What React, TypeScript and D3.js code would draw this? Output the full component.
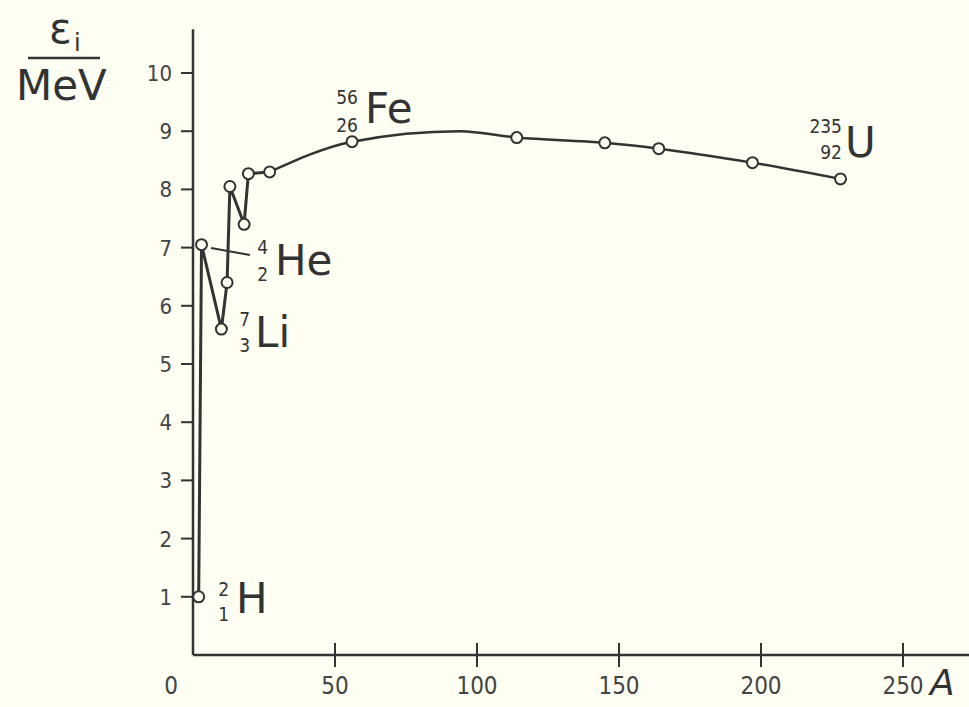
import * as d3 from 'd3';

// mass number A and binding energy per nucleon (MeV)
const pointA = [2, 3, 10, 12, 13, 18, 19.5, 27, 56, 114, 145, 164, 197, 228];
const pointE = [1.0, 7.05, 5.6, 6.4, 8.05, 7.4, 8.27, 8.3, 8.82, 8.89, 8.8, 8.7, 8.46, 8.18];
// the hand drawn curve also passes a crest with no marker on it
const crestA = [94];
const crestE = [9.0];

const xTicks = [0, 50, 100, 150, 200, 250];
const yTicks = [1, 2, 3, 4, 5, 6, 7, 8, 9, 10];

const isoSymbol = ['H', 'He', 'Li', 'Fe', 'U'];
const isoMass = ['2', '4', '7', '56', '235'];
const isoZ = ['1', '2', '3', '26', '92'];

const ink = '#333';
const paper = '#fefef3';
const numFont = '"DejaVu Sans Condensed", "DejaVu Sans", sans-serif';
const mainFont = '"DejaVu Sans", sans-serif';

export default function App() {
  const width = 969;
  const height = 707;

  const x = d3.scaleLinear().domain([0, 250]).range([193, 903]);
  const y = d3.scaleLinear().domain([0, 10]).range([655, 73]);

  const pts = pointA.map((a, i) => ({ a, e: pointE[i] }));
  const zigzag = pts.slice(0, 8);
  const tail = pts
    .slice(7)
    .concat(crestA.map((a, i) => ({ a, e: crestE[i] })))
    .sort((p, q) => p.a - q.a);

  const straight = d3
    .line<{ a: number; e: number }>()
    .x((d) => x(d.a))
    .y((d) => y(d.e));
  const smooth = d3
    .line<{ a: number; e: number }>()
    .x((d) => x(d.a))
    .y((d) => y(d.e))
    .curve(d3.curveMonotoneX);

  // label layout: [numbers right edge, sup baseline, sub baseline, symbol x, symbol baseline]
  const labelPos = [
    [229, 596, 621, 236, 613],
    [268, 254, 281, 275, 275],
    [250, 326, 352, 255, 347],
    [358, 104, 132, 365, 123],
    [842, 133, 159, 845, 157],
  ];

  return (
    <div style={{ position: 'absolute', left: 0, top: 0 }}>
      <svg width={width} height={height} style={{ display: 'block', background: paper }}>
        <rect width={width} height={height} fill={paper} />

        {/* axes */}
        <line x1={x(0)} x2={x(0)} y1={y(0)} y2={y(10.75)} stroke={ink} strokeWidth={2.5} />
        <line x1={x(0)} x2={width} y1={y(0)} y2={y(0)} stroke={ink} strokeWidth={2.5} />

        {yTicks.map((t) => (
          <g key={'y' + t}>
            <line x1={x(0) - 12} x2={x(0)} y1={y(t)} y2={y(t)} stroke={ink} strokeWidth={2} />
            <text
              x={x(0) - 21}
              y={y(t)}
              dy="0.36em"
              textAnchor="end"
              fontFamily={numFont}
              fontSize={22}
              fill="#444"
            >
              {t}
            </text>
          </g>
        ))}

        {xTicks.map((t) => (
          <g key={'x' + t}>
            {t > 0 && (
              <line x1={x(t)} x2={x(t)} y1={y(0) - 12} y2={y(0) + 12} stroke={ink} strokeWidth={2} />
            )}
            <text
              x={t === 0 ? x(0) - 22 : x(t)}
              y={694}
              textAnchor="middle"
              fontFamily={numFont}
              fontSize={24}
              fill="#444"
            >
              {t}
            </text>
          </g>
        ))}

        {/* axis titles */}
        <text x={49} y={43} fontFamily={mainFont} fontSize={42} fill={ink}>
          ε
        </text>
        <text x={74} y={51} fontFamily={mainFont} fontSize={24} fill={ink}>
          i
        </text>
        <line x1={28} x2={100} y1={58} y2={58} stroke={ink} strokeWidth={2.5} />
        <text x={16} y={100} fontFamily={mainFont} fontSize={42} fill={ink}>
          MeV
        </text>
        <text x={930} y={695} fontFamily={mainFont} fontSize={36} fontStyle="italic" fill={ink}>
          A
        </text>

        {/* curve */}
        <path d={straight(zigzag) ?? ''} fill="none" stroke={ink} strokeWidth={3} strokeLinejoin="miter" />
        <path d={smooth(tail) ?? ''} fill="none" stroke={ink} strokeWidth={2.5} />

        {/* He leader */}
        <line x1={211} y1={248} x2={250} y2={255} stroke={ink} strokeWidth={2} />

        {pts.map((p, i) => (
          <circle key={'p' + i} cx={x(p.a)} cy={y(p.e)} r={5.5} fill={paper} stroke={ink} strokeWidth={2} />
        ))}

        {/* isotope labels */}
        {isoSymbol.map((s, i) => {
          const [nx, supY, subY, sx, sy] = labelPos[i];
          return (
            <g key={s} fill={ink}>
              <text x={nx} y={supY} textAnchor="end" fontFamily={numFont} fontSize={19}>
                {isoMass[i]}
              </text>
              <text x={nx} y={subY} textAnchor="end" fontFamily={numFont} fontSize={19}>
                {isoZ[i]}
              </text>
              <text x={sx} y={sy} fontFamily={mainFont} fontSize={42}>
                {s}
              </text>
            </g>
          );
        })}
      </svg>
    </div>
  );
}
